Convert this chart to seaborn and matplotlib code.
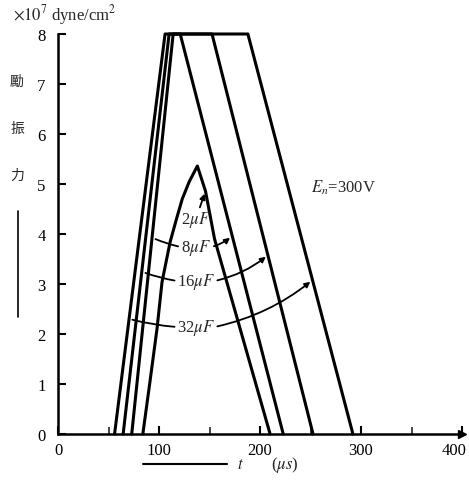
import pandas as pd
import seaborn as sns
import matplotlib.pyplot as plt
import matplotlib.ticker as mticker
from matplotlib.transforms import ScaledTranslation

# pulse shapes: t in microseconds, force in 1e7 dyne/cm^2
t_2uF = [84, 91, 98, 103, 111, 118, 123, 130, 138, 146, 155, 210]
f_2uF = [0, 1.04, 2.1, 3.04, 3.84, 4.35, 4.7, 5.05, 5.36, 4.86, 3.9, 0]
t_8uF = [73, 114, 121, 223]
f_8uF = [0, 8, 8, 0]
t_16uF = [64.5, 110, 152.5, 252.5]
f_16uF = [0, 8, 8, 0]
t_32uF = [56, 106, 188, 292]
f_32uF = [0, 8, 8, 0]

cap_names = ["2μF", "8μF", "16μF", "32μF"]
x_ticks = [0, 100, 200, 300, 400]
y_ticks = [0, 1, 2, 3, 4, 5, 6, 7, 8]

# where each label's connector touches its curve (left / right side)
left_hits = {"8μF": (94, 3.92), "16μF": (84, 3.24), "32μF": (71, 2.3)}
right_hits = {"2μF": (146, 4.86), "8μF": (172.5, 3.96),
              "16μF": (208, 3.58), "32μF": (252, 3.08)}

frames = []
for name, t, f in zip(cap_names, [t_2uF, t_8uF, t_16uF, t_32uF],
                      [f_2uF, f_8uF, f_16uF, f_32uF]):
    frames.append(pd.DataFrame({"t": t, "force": f, "cap": name}))
df = pd.concat(frames, ignore_index=True)

sns.set_theme(style="ticks")
plt.rcParams["font.family"] = ["Liberation Serif", "DejaVu Serif"]
plt.rcParams["mathtext.fontset"] = "stix"

fig = plt.figure(figsize=(4.69, 4.85), dpi=100)
ax = fig.add_axes([58 / 469, 50 / 485, 404 / 469, 400 / 485])

sns.lineplot(data=df, x="t", y="force", units="cap", estimator=None,
             sort=False, color="black", lw=2.2, ax=ax, clip_on=False)

ax.set_xlim(0, 400)
ax.set_ylim(0, 8)
ax.set_xticks(x_ticks)
ax.set_yticks(y_ticks)
ax.xaxis.set_minor_locator(mticker.MultipleLocator(50))
ax.tick_params(direction="in", length=6, width=1.5, labelsize=12, colors="black")
ax.tick_params(axis="x", which="minor", direction="in", length=5, width=1.2)
ax.tick_params(axis="y", pad=9)
ax.tick_params(axis="x", pad=6)
ax.set_xlabel("")
ax.set_ylabel("")
sns.despine(ax=ax)
for s in ["left", "bottom"]:
    ax.spines[s].set_linewidth(1.8)
    ax.spines[s].set_color("black")
# arrow head on the time axis
ax.plot(1, 0, ">", color="black", ms=6, transform=ax.get_yaxis_transform(),
        clip_on=False)
# last time label sits left of its tick, as in the scan
last = ax.get_xticklabels()[-1]
last.set_horizontalalignment("right")
last.set_transform(last.get_transform() + ScaledTranslation(4 / 100, 0, fig.dpi_scale_trans))

# capacitor labels with their connectors
label_t = 136.6
label_y = {"2μF": 4.3, "8μF": 3.74, "16μF": 3.06, "32μF": 2.14}
half_w = {"2μF": 14, "8μF": 15, "16μF": 18.5, "32μF": 18.5}
for name in cap_names:
    y = label_y[name]
    ax.text(label_t, y, name.replace("μ", r"$\mu$").replace("F", r"$F$"),
            ha="center", va="center", fontsize=12)
    if name in left_hits:
        ax.annotate("", xy=left_hits[name], xytext=(label_t - half_w[name], y),
                    arrowprops=dict(arrowstyle="-", lw=1.3, color="black",
                                    connectionstyle="arc3,rad=-0.05"))
    if name == "2μF":
        ax.annotate("", xy=right_hits[name], xytext=(label_t + 3, y + 0.18),
                    arrowprops=dict(arrowstyle="-|>", lw=1.3, color="black",
                                    mutation_scale=8))
    else:
        ax.annotate("", xy=right_hits[name], xytext=(label_t + half_w[name], y),
                    arrowprops=dict(arrowstyle="-|>", lw=1.3, color="black",
                                    mutation_scale=8,
                                    connectionstyle="arc3,rad=0.12"))

ax.text(250, 4.94, r"$E_n$=300V", ha="left", va="center", fontsize=12)

# axis titles placed as in the scan
fig.text(13 / 469, 1 - 15 / 485, r"$\times10^7$ dyne/cm$^2$", ha="left",
         va="center", fontsize=12)
for ch, ypx in zip("勵振力", [82, 129, 176]):
    fig.text(17 / 469, 1 - ypx / 485, ch, ha="center", va="center",
             fontsize=10, family=["Noto Sans CJK TC", "DejaVu Sans"])
fig.add_artist(plt.Line2D([18 / 469, 18 / 469], [1 - 212 / 485, 1 - 318 / 485],
                          color="black", lw=1.2))
fig.add_artist(plt.Line2D([143 / 469, 227 / 469], [1 - 465 / 485, 1 - 465 / 485],
                          color="black", lw=1.5))
fig.text(240 / 469, 1 - 465 / 485, r"$t$", ha="center", va="center", fontsize=12)
fig.text(285 / 469, 1 - 465 / 485, r"($\mu s$)", ha="center", va="center",
         fontsize=12)

fig.savefig("out.png", dpi=100)
